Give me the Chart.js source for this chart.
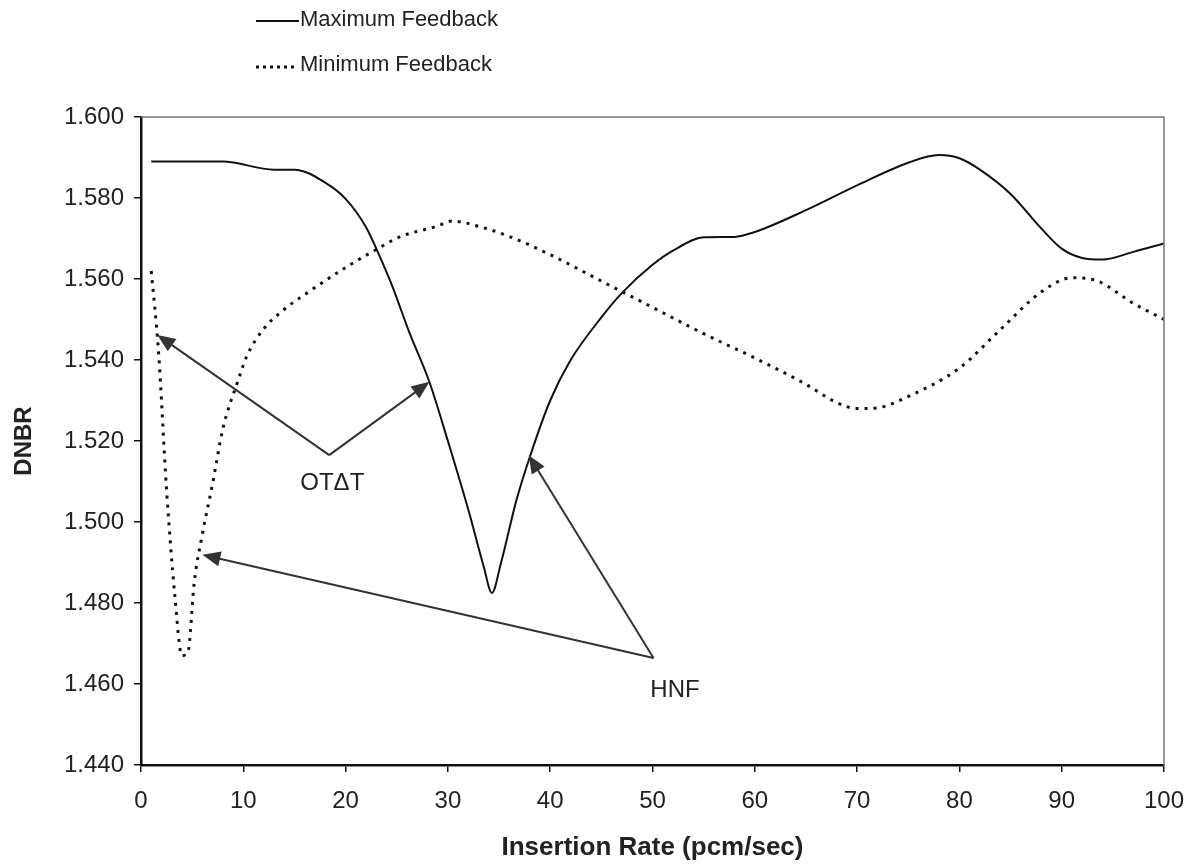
<!DOCTYPE html>
<html>
<head>
<meta charset="utf-8">
<script src="https://cdn.jsdelivr.net/npm/chart.js@4/dist/chart.umd.min.js"></script>
<style>
  body { margin: 0; background: #fff; }
</style>
</head>
<body>
<canvas id="dnbr-chart" width="1199" height="867"></canvas>
<script>
const maxX = [1, 8, 13, 15, 18, 20, 22, 23, 24.6, 26.2, 28.2, 30, 32, 33.5, 34.3, 35.2, 36.7, 38, 40, 42, 45, 47, 50, 52, 55, 58, 60, 65, 70, 75, 78, 80, 82, 85, 88, 90, 92, 94, 97, 100];
const maxY = [1.589, 1.589, 1.587, 1.587, 1.5838, 1.5798, 1.5728, 1.5675, 1.558, 1.547, 1.5345, 1.520, 1.503, 1.489, 1.4825, 1.490, 1.5054, 1.516, 1.530, 1.540, 1.5505, 1.5565, 1.5635, 1.567, 1.5703, 1.5704, 1.5716, 1.577, 1.5831, 1.5887, 1.5906, 1.5898, 1.587, 1.581, 1.5725, 1.5675, 1.5652, 1.5648, 1.5667, 1.5688];

const minX = [1, 1.7, 2.5, 3.3, 4, 4.6, 5.2, 6, 7, 8, 9.5, 10.3, 11.9, 13.9, 16.2, 20.1, 22.6, 25.3, 28.9, 30.4, 33, 36, 40, 45, 50, 55, 60, 65, 68, 70, 72, 75, 80, 84, 88, 91, 93.5, 97, 100];
const minY = [1.562, 1.5425, 1.508, 1.482, 1.467, 1.468, 1.485, 1.497, 1.5095, 1.523, 1.535, 1.5407, 1.5474, 1.5523, 1.5565, 1.563, 1.5667, 1.5704, 1.573, 1.5743, 1.573, 1.5705, 1.566, 1.5595, 1.553, 1.5465, 1.5405, 1.534, 1.5295, 1.528, 1.5282, 1.531, 1.538, 1.5475, 1.5568, 1.5603, 1.5595, 1.554, 1.550];

const seriesNames = ["Maximum Feedback", "Minimum Feedback"];

// arrows: [fromX, fromY, toX, toY] in data units
const otdtArrows = [[18.4, 1.5165, 1.6, 1.5462], [18.4, 1.5165, 28.2, 1.5346]];
const hnfArrows = [[50.1, 1.4664, 6.0, 1.4919], [50.1, 1.4664, 37.9, 1.5165]];
const labels = [["OT\u0394T", 18.7, 1.5096], ["HNF", 52.2, 1.4585]];

function toPoints(xs, ys) {
  return xs.map((x, i) => ({ x: x, y: ys[i] }));
}

function drawArrow(ctx, x1, y1, x2, y2) {
  const ang = Math.atan2(y2 - y1, x2 - x1);
  const len = 18, half = 7.5;
  ctx.beginPath();
  ctx.moveTo(x1, y1);
  ctx.lineTo(x2 - Math.cos(ang) * len * 0.8, y2 - Math.sin(ang) * len * 0.8);
  ctx.stroke();
  ctx.beginPath();
  ctx.moveTo(x2, y2);
  ctx.lineTo(x2 - Math.cos(ang) * len - Math.sin(ang) * half, y2 - Math.sin(ang) * len + Math.cos(ang) * half);
  ctx.lineTo(x2 - Math.cos(ang) * len + Math.sin(ang) * half, y2 - Math.sin(ang) * len - Math.cos(ang) * half);
  ctx.closePath();
  ctx.fill();
}

const extras = {
  id: "extras",
  afterDatasetsDraw(chart) {
    const { ctx, chartArea, scales } = chart;
    const x = scales.x, y = scales.y;
    ctx.save();

    // top and right frame
    ctx.strokeStyle = "#777";
    ctx.lineWidth = 1.5;
    ctx.beginPath();
    ctx.moveTo(chartArea.left, chartArea.top);
    ctx.lineTo(chartArea.right, chartArea.top);
    ctx.lineTo(chartArea.right, chartArea.bottom);
    ctx.stroke();

    // arrows
    ctx.strokeStyle = "#333";
    ctx.fillStyle = "#333";
    ctx.lineWidth = 2;
    otdtArrows.concat(hnfArrows).forEach((a) => {
      drawArrow(ctx, x.getPixelForValue(a[0]), y.getPixelForValue(a[1]),
        x.getPixelForValue(a[2]), y.getPixelForValue(a[3]));
    });

    ctx.fillStyle = "#222";
    ctx.font = "24px 'Liberation Sans', Arial, sans-serif";
    ctx.textAlign = "center";
    ctx.textBaseline = "middle";
    labels.forEach((l) => {
      ctx.fillText(l[0], x.getPixelForValue(l[1]), y.getPixelForValue(l[2]));
    });

    // legend
    ctx.textAlign = "left";
    ctx.font = "22px 'Liberation Sans', Arial, sans-serif";
    ctx.strokeStyle = "#111";
    ctx.lineWidth = 2;
    ctx.beginPath();
    ctx.moveTo(256, 21);
    ctx.lineTo(299, 21);
    ctx.stroke();
    ctx.fillText(seriesNames[0], 300, 20);
    ctx.lineWidth = 3;
    ctx.setLineDash([3, 4]);
    ctx.beginPath();
    ctx.moveTo(256, 67);
    ctx.lineTo(298, 67);
    ctx.stroke();
    ctx.setLineDash([]);
    ctx.fillText(seriesNames[1], 300, 65);

    ctx.restore();
  }
};

new Chart(document.querySelector("#dnbr-chart").getContext("2d"), {
  type: "line",
  data: {
    datasets: [
      {
        label: seriesNames[0],
        data: toPoints(maxX, maxY),
        borderColor: "#111",
        borderWidth: 2,
        pointRadius: 0,
        cubicInterpolationMode: "monotone",
        fill: false,
      },
      {
        label: seriesNames[1],
        data: toPoints(minX, minY),
        borderColor: "#111",
        borderWidth: 3,
        borderDash: [3, 6],
        pointRadius: 0,
        cubicInterpolationMode: "monotone",
        fill: false,
      },
    ],
  },
  options: {
    responsive: false,
    animation: false,
    layout: { padding: { top: 117, right: 31, left: 0, bottom: 0 } },
    plugins: { legend: { display: false }, tooltip: { enabled: false } },
    scales: {
      x: {
        type: "linear",
        min: 0,
        max: 100,
        ticks: {
          stepSize: 10,
          color: "#222",
          padding: 15,
          font: { family: "'Liberation Sans', Arial, sans-serif", size: 24 },
        },
        grid: { drawOnChartArea: false, drawTicks: true, tickLength: 7, color: "#111", lineWidth: 1.5 },
        border: { display: true, color: "#111", width: 2.5 },
        title: {
          display: true,
          text: "Insertion Rate (pcm/sec)",
          color: "#222",
          padding: { top: 10, bottom: 4 },
          font: { family: "'Liberation Sans', Arial, sans-serif", size: 26, weight: "bold" },
        },
        afterFit(scale) { scale.height = 102; },
      },
      y: {
        min: 1.44,
        max: 1.6,
        ticks: {
          stepSize: 0.02,
          color: "#222",
          padding: 10,
          font: { family: "'Liberation Sans', Arial, sans-serif", size: 24 },
          callback: (v) => v.toFixed(3),
        },
        grid: { drawOnChartArea: false, drawTicks: true, tickLength: 7, color: "#111", lineWidth: 1.5 },
        border: { display: true, color: "#111", width: 2.5 },
        title: {
          display: true,
          text: "DNBR",
          color: "#222",
          padding: { top: 10, bottom: 0 },
          font: { family: "'Liberation Sans', Arial, sans-serif", size: 24, weight: "bold" },
        },
        afterFit(scale) { scale.width = 141; },
      },
    },
  },
  plugins: [extras],
});
</script>
</body>
</html>
